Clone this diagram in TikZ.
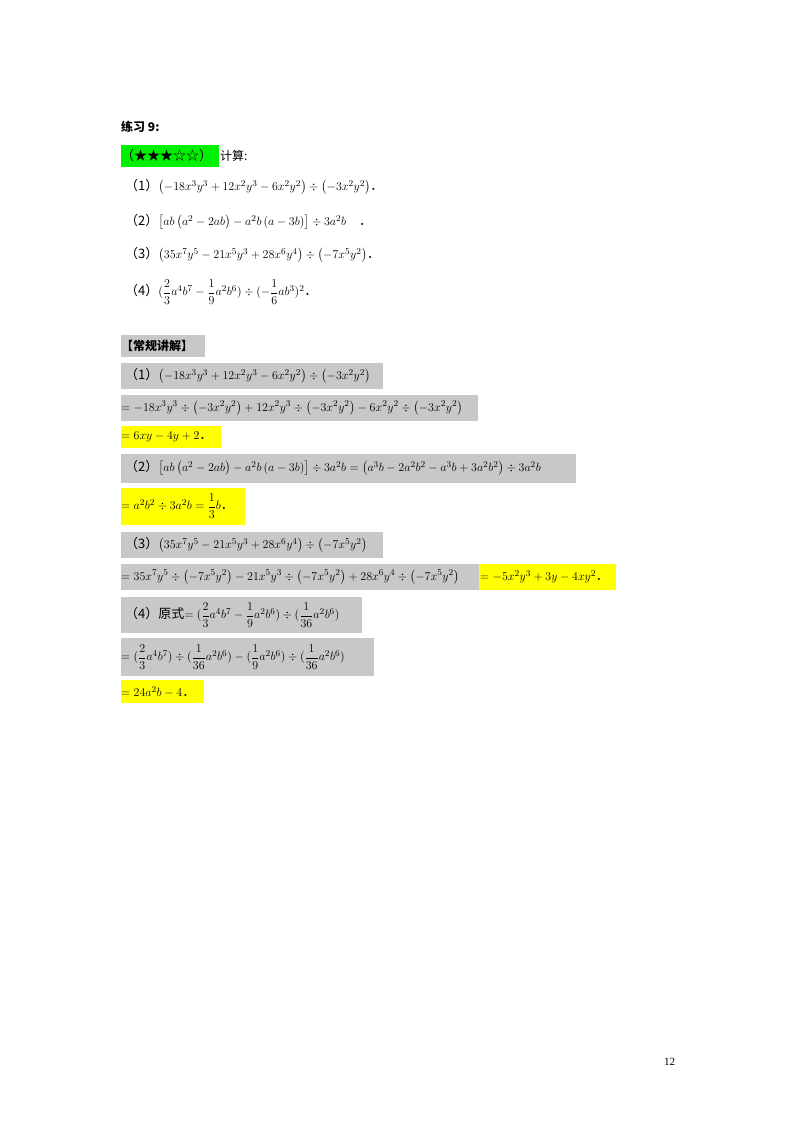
\documentclass[tikz,border=0pt]{standalone}
\usepackage{fontspec}
\setmainfont{Liberation Serif}
\newfontfamily\cjk{Noto Sans CJK SC}
\usepackage{amsmath}
\usetikzlibrary{positioning}
\definecolor{hlgreen}{RGB}{0,240,0}
\definecolor{hlyellow}{RGB}{255,255,0}
\definecolor{hlgray}{RGB}{200,200,200}
\newcommand{\dv}{\div}
\newcommand{\fs}{{\cjk ．}}
\begin{document}
\begin{tikzpicture}[x=1pt,y=-1pt,
  line/.style={anchor=west,inner sep=0pt,font=\fontsize{13}{15}\selectfont},
  grayhl/.style={fill=hlgray,draw=none},
  yellowhl/.style={fill=hlyellow,draw=none}]
\useasboundingbox (0,0) rectangle (800,1132);

% highlights
\fill[hlgreen] (121,145) rectangle (219,167);
\fill[hlgray] (121,335) rectangle (205,357);
\fill[hlgray] (121,363) rectangle (383,389);
\fill[hlgray] (121,395) rectangle (478,421);
\fill[hlyellow] (121,426) rectangle (221,448);
\fill[hlgray] (121,454) rectangle (576,483);
\fill[hlyellow] (121,488) rectangle (245,525);
\fill[hlgray] (121,532) rectangle (383,558);
\fill[hlgray] (121,564) rectangle (479,590);
\fill[hlyellow] (479,564) rectangle (616,590);
\fill[hlgray] (121,597) rectangle (362,633);
\fill[hlgray] (121,638) rectangle (374,676);
\fill[hlyellow] (121,680) rectangle (204,703);

% exercise
\node[line,font=\cjk\bfseries\fontsize{12}{14}\selectfont] (title) at (121,127) {练习 9:};
\node[line,font=\cjk\fontsize{13}{15}\selectfont] (stars) at (121,156) {（★★★☆☆）};
\node[line,font=\cjk\fontsize{12}{14}\selectfont] (calc) at (220,156) {计算:};
\node[line] (p1) at (125,187) {{\cjk（1）}$\left(-18x^3y^3+12x^2y^3-6x^2y^2\right)\dv\left(-3x^2y^2\right)$\fs};
\node[line] (p2) at (125,222) {{\cjk（2）}$\left[ab\left(a^2-2ab\right)-a^2b\left(a-3b\right)\right]\dv 3a^2b$\quad\fs};
\node[line] (p3) at (125,255) {{\cjk（3）}$\left(35x^7y^5-21x^5y^3+28x^6y^4\right)\dv\left(-7x^5y^2\right)$\fs};
\node[line] (p4) at (125,292) {{\cjk（4）}$(\dfrac{2}{3}a^4b^7-\dfrac{1}{9}a^2b^6)\dv(-\dfrac{1}{6}ab^3)^2$\fs};

% solution
\node[line,font=\cjk\bfseries\fontsize{12}{14}\selectfont] (head) at (121,346) {【常规讲解】};
\node[line] (s1) at (125,376) {{\cjk（1）}$\left(-18x^3y^3+12x^2y^3-6x^2y^2\right)\dv\left(-3x^2y^2\right)$};
\node[line] (s1b) at (121,408) {$=-18x^3y^3\dv\left(-3x^2y^2\right)+12x^2y^3\dv\left(-3x^2y^2\right)-6x^2y^2\dv\left(-3x^2y^2\right)$};
\node[line] (s1c) at (121,437) {$=6xy-4y+2$\fs};
\node[line] (s2) at (125,468) {{\cjk（2）}$\left[ab\left(a^2-2ab\right)-a^2b\left(a-3b\right)\right]\dv 3a^2b=\left(a^3b-2a^2b^2-a^3b+3a^2b^2\right)\dv 3a^2b$};
\node[line] (s2b) at (121,506) {$=a^2b^2\dv 3a^2b=\dfrac{1}{3}b$\fs};
\node[line] (s3) at (125,545) {{\cjk（3）}$\left(35x^7y^5-21x^5y^3+28x^6y^4\right)\dv\left(-7x^5y^2\right)$};
\node[line] (s3b) at (121,577) {$=35x^7y^5\dv\left(-7x^5y^2\right)-21x^5y^3\dv\left(-7x^5y^2\right)+28x^6y^4\dv\left(-7x^5y^2\right)$};
\node[line] (s3c) at (480,577) {$=-5x^2y^3+3y-4xy^2$\fs};
\node[line] (s4) at (125,615) {{\cjk（4）原式}$=(\dfrac{2}{3}a^4b^7-\dfrac{1}{9}a^2b^6)\dv(\dfrac{1}{36}a^2b^6)$};
\node[line] (s4b) at (121,657) {$=(\dfrac{2}{3}a^4b^7)\dv(\dfrac{1}{36}a^2b^6)-(\dfrac{1}{9}a^2b^6)\dv(\dfrac{1}{36}a^2b^6)$};
\node[line] (s4c) at (121,692) {$=24a^2b-4$\fs};

\node[line,font=\fontsize{11}{13}\selectfont] (page) at (664,1062) {12};
\end{tikzpicture}
\end{document}
